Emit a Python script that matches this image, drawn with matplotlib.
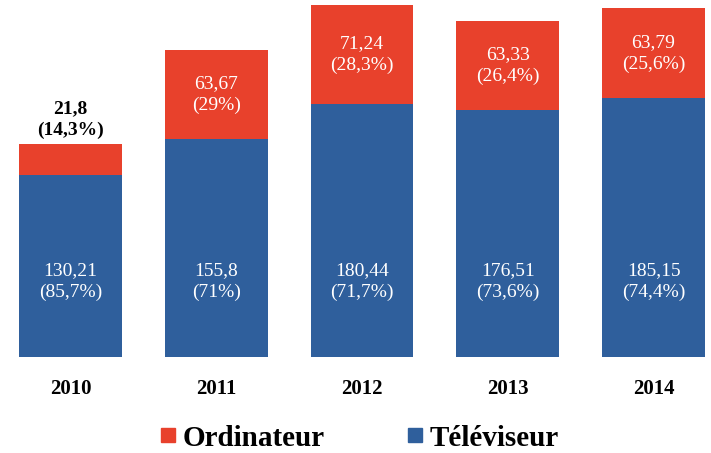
import matplotlib.pyplot as plt
from matplotlib.lines import Line2D
import numpy as np

years = ['2010', '2011', '2012', '2013', '2014']
televiseur = [130.21, 155.8, 180.44, 176.51, 185.15]
tv_pct = ['85,7%', '71%', '71,7%', '73,6%', '74,4%']
ordinateur = [21.8, 63.67, 71.24, 63.33, 63.79]
ord_pct = ['14,3%', '29%', '28,3%', '26,4%', '25,6%']

red = '#E8412C'
blue = '#2F5F9C'
serif = ['Liberation Serif', 'DejaVu Serif']


def fmt(v):
    return ('%g' % v).replace('.', ',')


fig = plt.figure(figsize=(7.11, 4.53), dpi=100)
ax = fig.add_axes([0, 0.212, 1, 0.788])

x = np.arange(len(years))
width = 0.705
ax.bar(x, televiseur, width, color=blue)
ax.bar(x, ordinateur, width, bottom=televiseur, color=red)

for i in x:
    # blue segment labels sit at a fixed height near the base
    ax.text(i, 54, fmt(televiseur[i]) + '\n(' + tv_pct[i] + ')', ha='center', va='center',
            color='white', fontsize=14, family=serif, linespacing=1.35)
    top = televiseur[i] + ordinateur[i]
    if ordinateur[i] < 30:
        # small segment: label goes above the bar in black bold
        ax.text(i, top + 4, fmt(ordinateur[i]) + '\n(' + ord_pct[i] + ')', ha='center', va='bottom',
                color='black', fontsize=14, fontweight='bold', family=serif, linespacing=1.3)
    else:
        ax.text(i, televiseur[i] + ordinateur[i] / 2, fmt(ordinateur[i]) + '\n(' + ord_pct[i] + ')',
                ha='center', va='center', color='white', fontsize=14, family=serif, linespacing=1.35)

ax.set_xlim(-0.483, 4.394)
ax.set_ylim(0, 255)
ax.set_xticks(x, years, fontsize=15, fontweight='bold', family=serif)
ax.tick_params(axis='x', length=0, pad=16)
ax.set_yticks([])
for s in ax.spines.values():
    s.set_visible(False)

handles = [Line2D([], [], marker='s', linestyle='', markersize=9.5, color=red),
           Line2D([], [], marker='s', linestyle='', markersize=9.5, color=blue)]
fig.legend(handles, ['Ordinateur', 'Téléviseur'], loc='center', bbox_to_anchor=(0.505, 0.033),
           ncol=2, frameon=False, handlelength=0.6, handletextpad=0.2, columnspacing=2.8,
           prop={'family': serif, 'size': 21, 'weight': 'bold'})

fig.savefig('out.png', dpi=100)
